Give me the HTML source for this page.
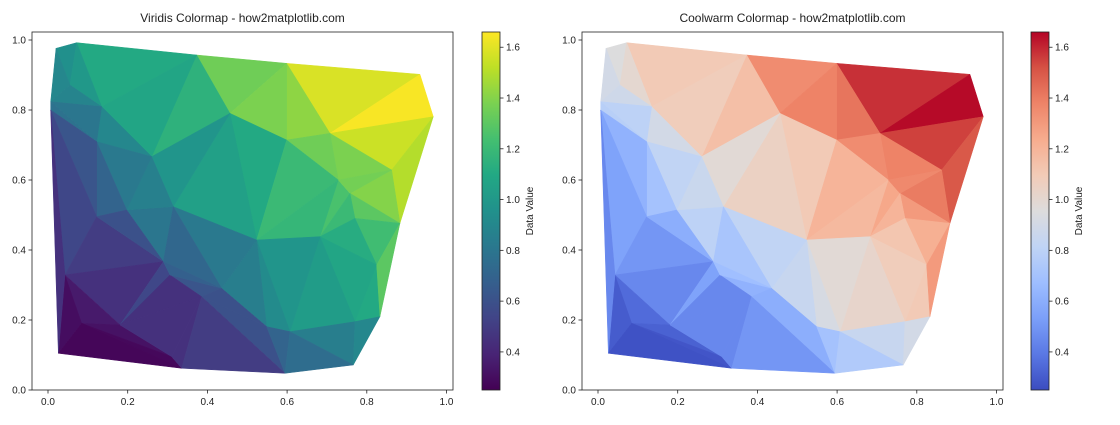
<!DOCTYPE html>
<html><head><meta charset="utf-8"><style>
body{margin:0;background:#fff;width:1120px;height:420px;overflow:hidden;font-family:"Liberation Sans",sans-serif}
svg text{font-family:"Liberation Sans",sans-serif;fill:#222}
</style></head><body>
<svg id="s" width="1120" height="420" xmlns="http://www.w3.org/2000/svg"></svg>
<script>
const V={A:[78,55],B:[140,38],C:[500,75],D:[770,100],E:[1170,133],F:[1210,260],H:[62,215],I:[62,240],J:[120,165],K:[215,230],L:[200,335],M:[365,380],N:[600,250],O:[770,330],P:[900,310],Q:[1085,420],R:[1110,580],S:[925,450],T:[960,490],U:[975,565],Vv:[870,620],W:[680,630],X:[430,530],Y:[290,540],Z:[200,560],a:[105,735],b:[400,695],c:[420,735],d:[575,775],e:[515,800],f:[270,885],g:[155,880],h:[85,970],i:[455,1015],j:[425,980],k:[710,890],l:[780,905],m:[765,1030],n:[975,875],o:[970,1005],p:[1050,860],q:[1040,705]};
const T=[["A B J",.95],["B C K",1.1],["B K J",1.0],["A J H",.9],["H J K",.88],["C D N",1.35],["C N M",1.15],["C M K",1.08],["K M L",.9],["H K L",.8],["H I L",.78],["D E P",1.58],["D P O",1.42],["D O N",1.38],["E F P",1.65],["F Q P",1.55],["F R Q",1.5],["P Q S",1.38],["O P S",1.35],["N O W",1.1],["N W X",1.05],["N X M",.98],["O S W",1.2],["S T Vv",1.25],["W S Vv",1.18],["Q R T",1.4],["S Q T",1.36],["T R U",1.3],["T U Vv",1.2],["R q U",1.22],["U q Vv",1.12],["q p n",1.1],["q n Vv",1.08],["Vv n l",1.02],["W Vv l",.98],["W l k",.92],["W k d",.85],["W d X",.82],["X b Y",.8],["M X Y",.86],["L M Y",.82],["L Y Z",.7],["I L Z",.62],["I Z a",.55],["Z b a",.5],["Z Y b",.6],["a b f",.45],["b c f",.55],["c d e",.62],["c e f",.45],["b X d",.72],["b d c",.68],["a f g",.35],["a g h",.3],["I a h",.45],["g f j",.32],["g j i",.28],["h g i",.27],["f e j",.45],["j e i",.45],["e k m",.6],["e m i",.5],["e d k",.6],["k l m",.7],["l n o",.85],["l o m",.75],["n p o",.9],["p R q",1.3]];
const vir=["#440154","#482475","#414487","#355f8d","#2a788e","#21918c","#22a884","#44bf70","#7ad151","#bddf26","#fde725"];
const cw=["#3b4cc0","#5a78e4","#7b9ff9","#9ebeff","#c0d4f5","#dddcdc","#f2cbb7","#f7ac8e","#ee8468","#d65244","#b40426"];
function h2r(h){return[1,3,5].map(i=>parseInt(h.substr(i,2),16))}
function cm(st,t){t=Math.max(0,Math.min(1,t));let x=t*10,i=Math.min(9,Math.floor(x)),f=x-i;let a=h2r(st[i]),b=h2r(st[i+1]);return`rgb(${a.map((v,k)=>Math.round(v+(b[k]-v)*f)).join(",")})`}
const vmin=0.25,vmax=1.66;
let out="";
function plot(ox,st,title,cbx){
 out+=`<g transform="translate(${30+ox},30) scale(0.3333)">`;
 for(const [n,v] of T){const c=cm(st,(v-vmin)/(vmax-vmin));out+=`<polygon points="${n.split(" ").map(k=>V[k].join(",")).join(" ")}" fill="${c}" stroke="${c}" stroke-width="1.5"/>`}
 out+=`</g>`;
 const L=32+ox,R=453+ox,Tp=32,B=390;
 out+=`<rect x="${L}" y="${Tp}" width="${R-L}" height="${B-Tp}" fill="none" stroke="#222" stroke-width="0.8"/>`;
 for(let i=0;i<=5;i++){const x=48+ox+i*79.7;out+=`<line x1="${x}" y1="${B}" x2="${x}" y2="${B+3.5}" stroke="#222" stroke-width="0.8"/><text x="${x}" y="${B+15}" font-size="10" text-anchor="middle">${(i*0.2).toFixed(1)}</text>`;
  const y=390-i*70;out+=`<line x1="${L}" y1="${y}" x2="${L-3.5}" y2="${y}" stroke="#222" stroke-width="0.8"/><text x="${L-6}" y="${y+3.5}" font-size="10" text-anchor="end">${(i*0.2).toFixed(1)}</text>`}
 out+=`<text x="${(L+R)/2}" y="22" font-size="12" text-anchor="middle">${title}</text>`;
 out+=`<defs><linearGradient id="g${ox}" x1="0" y1="1" x2="0" y2="0">${st.map((c,i)=>`<stop offset="${i/10}" stop-color="${c}"/>`).join("")}</linearGradient></defs>`;
 out+=`<rect x="${cbx}" y="${Tp}" width="18" height="${B-Tp}" fill="url(#g${ox})" stroke="#222" stroke-width="0.8"/>`;
 for(let v=0.4;v<1.7;v+=0.2){const y=390-(v-vmin)/(vmax-vmin)*358;out+=`<line x1="${cbx+18}" y1="${y}" x2="${cbx+21.5}" y2="${y}" stroke="#222" stroke-width="0.8"/><text x="${cbx+24}" y="${y+3.5}" font-size="10">${v.toFixed(1)}</text>`}
 out+=`<text transform="translate(${cbx+51},211) rotate(-90)" font-size="10" text-anchor="middle">Data Value</text>`;
}
plot(0,vir,"Viridis Colormap - how2matplotlib.com",482);
plot(550,cw,"Coolwarm Colormap - how2matplotlib.com",1031);
document.getElementById("s").innerHTML=out;
</script>
</body></html>
